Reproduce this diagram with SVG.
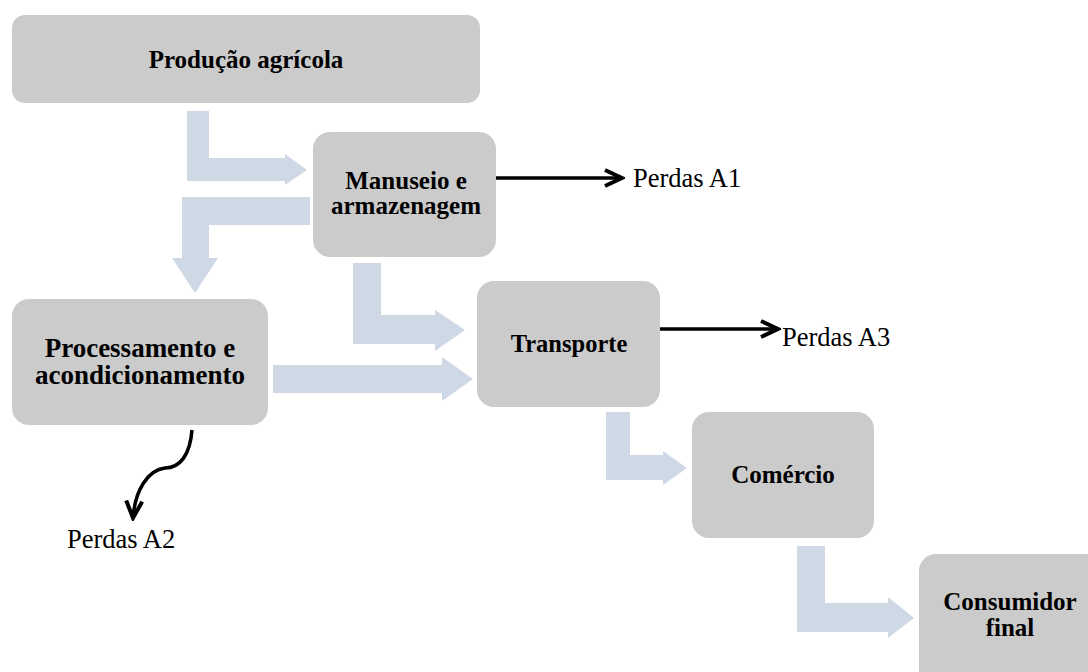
<svg xmlns="http://www.w3.org/2000/svg" width="1088" height="672" viewBox="0 0 1088 672">
  <style>
    .box { fill: #cbcbcb; }
    .flow { fill: #cfd8e5; }
    .lbl { font-family: "Liberation Serif", "Times New Roman", serif; font-weight: bold; font-size: 25px; fill: #000; text-anchor: middle; }
    .loss { font-family: "Liberation Serif", "Times New Roman", serif; font-size: 26.5px; fill: #000; }
    .blk { fill: none; stroke: #000; stroke-width: 3.5; }
  </style>
  <defs>
    <marker id="chev" viewBox="0 0 24 20" refX="21" refY="10" markerWidth="24" markerHeight="20" markerUnits="userSpaceOnUse" orient="auto">
      <path d="M4,2 L21,10 L4,18" fill="none" stroke="#000" stroke-width="4" stroke-linejoin="miter"/>
    </marker>
  </defs>

  <g id="connectors">
    <path class="flow" d="M187,111 H209 V158 H285 V154 L307,170 L285,185 V181 H187 Z"/>
    <path class="flow" d="M310,197 V225 H209 V258 H218 L195,293 L172,258 H182 V197 Z"/>
    <path class="flow" d="M353,263 H381 V315 H435 V310 L465,330 L435,351 V344 H353 Z"/>
    <path class="flow" d="M273,365 H442 V357 L473,379 L442,401 V393 H273 Z"/>
    <path class="flow" d="M606,412 H630 V455 H663 V451 L687,468 L663,485 V480 H606 Z"/>
    <path class="flow" d="M797,546 H825 V603 H888 V597 L914,618 L888,638 V632 H797 Z"/>
    <path class="blk" d="M495,178 H622" marker-end="url(#chev)"/>
    <path class="blk" d="M652,329 H778" marker-end="url(#chev)"/>
    <path class="blk" d="M192,430 C190,455 180,468 165,468 C148,470 135,490 133,518" marker-end="url(#chev)"/>
  </g>

  <g id="producao">
    <rect class="box" x="12" y="15" width="468" height="88" rx="13"/>
    <text class="lbl" x="246" y="68">Produção agrícola</text>
  </g>
  <g id="manuseio">
    <rect class="box" x="313" y="132" width="183" height="125" rx="17"/>
    <text class="lbl" x="406" y="189">Manuseio e</text>
    <text class="lbl" x="406" y="214">armazenagem</text>
  </g>
  <g id="processamento">
    <rect class="box" x="12" y="299" width="256" height="126" rx="17"/>
    <text class="lbl" x="140" y="357" style="font-size:27px">Processamento e</text>
    <text class="lbl" x="140" y="384" style="font-size:27px">acondicionamento</text>
  </g>
  <g id="transporte">
    <rect class="box" x="477" y="281" width="183" height="126" rx="17"/>
    <text class="lbl" x="569" y="352" style="font-size:24.5px">Transporte</text>
  </g>
  <g id="comercio">
    <rect class="box" x="692" y="412" width="182" height="126" rx="17"/>
    <text class="lbl" x="783" y="483">Comércio</text>
  </g>
  <g id="consumidor">
    <rect class="box" x="919" y="554" width="190" height="140" rx="17"/>
    <text class="lbl" x="1010" y="610">Consumidor</text>
    <text class="lbl" x="1010" y="636">final</text>
  </g>

  <g id="perdas">
    <text class="loss" x="633" y="187">Perdas A1</text>
    <text class="loss" x="67" y="548">Perdas A2</text>
    <text class="loss" x="782" y="346">Perdas A3</text>
  </g>
</svg>
